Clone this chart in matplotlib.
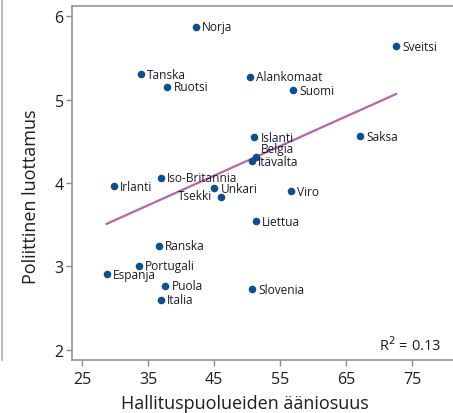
import matplotlib
matplotlib.use("Agg")
import matplotlib.pyplot as plt
from matplotlib.lines import Line2D
import numpy as np

plt.rcParams['font.family'] = ['Open Sans', 'DejaVu Sans']

countries = ["Norja", "Sveitsi", "Tanska", "Ruotsi", "Alankomaat", "Suomi",
             "Islanti", "Saksa", "Belgia", "Itävalta", "Iso-Britannia", "Irlanti",
             "Unkari", "Tsekki", "Viro", "Liettua", "Ranska", "Portugali",
             "Espanja", "Puola", "Slovenia", "Italia"]
vote_share = [42.2, 72.6, 33.9, 37.9, 50.4, 57.0,
              51.1, 67.1, 51.3, 50.8, 36.9, 29.8,
              45.0, 46.0, 56.6, 51.3, 36.6, 33.6,
              28.7, 37.6, 50.7, 36.9]
trust = [5.87, 5.64, 5.30, 5.15, 5.27, 5.11,
         4.55, 4.56, 4.31, 4.26, 4.06, 3.96,
         3.94, 3.83, 3.90, 3.54, 3.25, 3.01,
         2.91, 2.77, 2.73, 2.60]
fit_slope = 0.03545
fit_intercept = 2.493
r2_text = "R$^2$ = 0.13"
xticks = [25, 35, 45, 55, 65, 75]
yticks = [2, 3, 4, 5, 6]

# label offsets in points (dx, dy, ha)
label_style = {
    "Tsekki": (-6, 1, "right"),
    "Belgia": (4, 6, "left"),
    "Itävalta": (4, 0, "left"),
}

fig = plt.figure(figsize=(4.53, 4.14), dpi=100)
ax = fig.add_axes([72/453, 1-361/414, 1-72/453, (361-7)/414])

pt_color = "#0d4f93"
line_color = "#b466ab"
txt_color = "#1c1c2a"
spine_color = "#8c8c8c"

xs = np.array([min(vote_share), max(vote_share)])
ax.plot(xs, fit_intercept + fit_slope*xs, color=line_color, lw=1.6, zorder=2)
ax.scatter(vote_share, trust, s=30, color=pt_color, zorder=3, linewidths=0)

for name, x, y in zip(countries, vote_share, trust):
    dx, dy, ha = label_style.get(name, (4.5, 0, "left"))
    ax.annotate(name, (x, y), xytext=(dx, dy), textcoords="offset points",
                ha=ha, va="center", fontsize=8.6, color=txt_color, zorder=4)

ax.text(0.97, 0.018, r2_text, transform=ax.transAxes, ha="right", va="bottom",
        fontsize=10.5, color=txt_color)

ax.set_xlim(23.45, 81.2)
ax.set_ylim(1.88, 6.12)
ax.set_xticks(xticks)
ax.set_yticks(yticks)
ax.tick_params(direction="out", length=4, width=1, color=spine_color,
               labelsize=11.5, labelcolor=txt_color)
ax.tick_params(axis="x", pad=4)
ax.tick_params(axis="y", pad=2)
for side in ["left", "bottom", "top"]:
    ax.spines[side].set_color(spine_color)
    ax.spines[side].set_linewidth(1.1)
ax.spines["right"].set_visible(False)

ax.set_xlabel("Hallituspuolueiden ääniosuus", fontsize=13, color=txt_color)
ax.set_ylabel("Poliittinen luottamus", fontsize=13, color=txt_color)
ax.xaxis.set_label_coords(0.454, -0.095)
ax.yaxis.set_label_coords(-0.084, 0.463)

fig.add_artist(Line2D([2/453, 2/453], [1-361/414, 1.0], color="#b0b0b0", lw=1.2))

fig.savefig("out.png", dpi=100)
